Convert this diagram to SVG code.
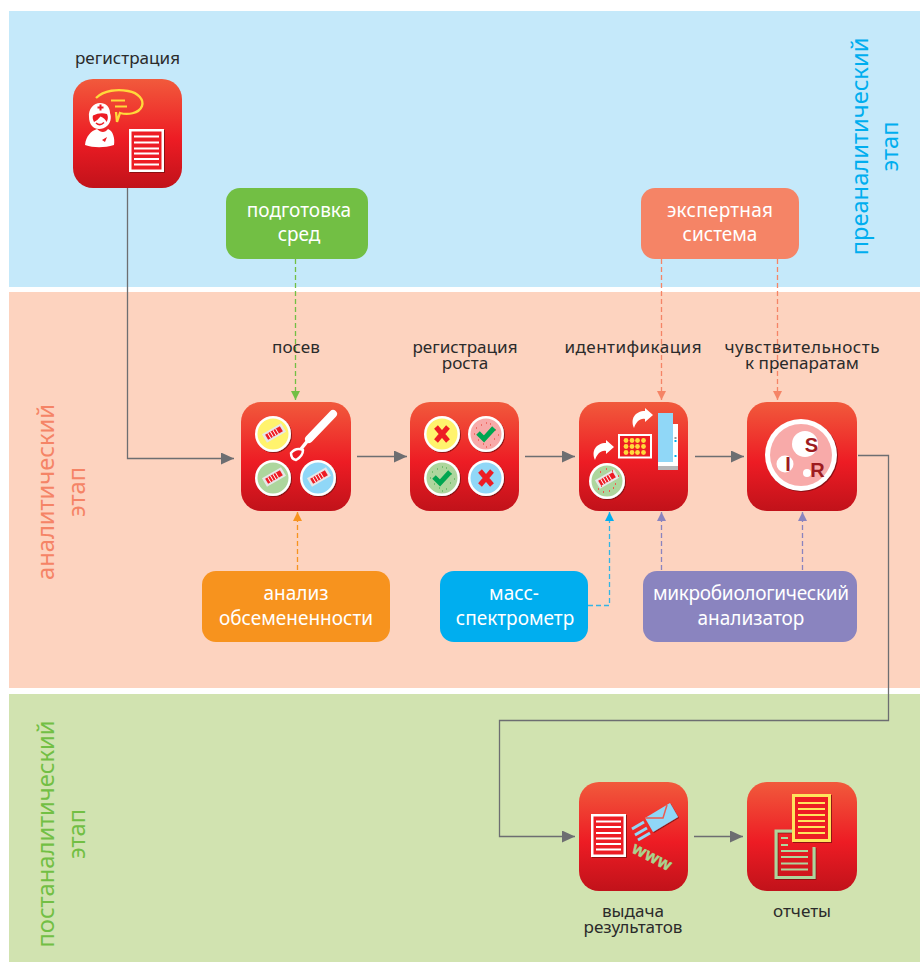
<svg xmlns="http://www.w3.org/2000/svg" width="920" height="962" viewBox="0 0 920 962">
<style>
text{font-family:"Noto Sans","Open Sans","Liberation Sans",sans-serif}
.l{font-size:17.1px;fill:#2b2b2b;text-anchor:middle}
.b{font-size:19px;fill:#fff;text-anchor:middle}
.s{font-size:23.7px;text-anchor:middle}
.c{fill:none;stroke:#6d6e71;stroke-width:1.3}
.d{fill:none;stroke-width:1.3;stroke-dasharray:5 3}
.tile{fill:url(#g)}
.wl{stroke:#fff;stroke-width:2}
.k{font-size:20px;font-weight:700;fill:#9e1b20;text-anchor:middle;font-family:"Liberation Sans",sans-serif}
</style>
<defs>
<linearGradient id="g" x1="0" y1="0" x2="0" y2="1"><stop offset="0" stop-color="#f15a3c"/><stop offset=".55" stop-color="#ed1c24"/><stop offset="1" stop-color="#c1121a"/></linearGradient>
<filter id="sh" x="-10%" y="-10%" width="125%" height="125%"><feDropShadow dx="1" dy="1" stdDeviation=".4" flood-color="#7a0c10" flood-opacity=".8"/></filter>
<marker id="ag" markerUnits="userSpaceOnUse" markerWidth="14" markerHeight="12" refX="13" refY="6" orient="auto"><path d="M0 0L13 6L0 12Z" fill="#6d6e71"/></marker>
<marker id="a1" markerUnits="userSpaceOnUse" markerWidth="10" markerHeight="10" refX="9" refY="4.500" orient="auto"><path d="M0 0L9 4.500L0 9Z" fill="#72bf44"/></marker>
<marker id="a2" markerUnits="userSpaceOnUse" markerWidth="10" markerHeight="10" refX="9" refY="4.500" orient="auto"><path d="M0 0L9 4.500L0 9Z" fill="#f7931e"/></marker>
<marker id="a3" markerUnits="userSpaceOnUse" markerWidth="10" markerHeight="10" refX="9" refY="4.500" orient="auto"><path d="M0 0L9 4.500L0 9Z" fill="#00aeef"/></marker>
<marker id="a4" markerUnits="userSpaceOnUse" markerWidth="10" markerHeight="10" refX="9" refY="4.500" orient="auto"><path d="M0 0L9 4.500L0 9Z" fill="#8a84bf"/></marker>
<marker id="a5" markerUnits="userSpaceOnUse" markerWidth="10" markerHeight="10" refX="9" refY="4.500" orient="auto"><path d="M0 0L9 4.500L0 9Z" fill="#f58466"/></marker>
<g id="strip"><g transform="rotate(-30)"><rect x="-11" y="-5" width="22" height="10" fill="#e6e7e8"/><rect x="-8.500" y="-3" width="17" height="6" fill="#ed1c24"/><path d="M-5.500-3V3M-2.500-3V3M.5-3V3M3.500-3V3" stroke="#fff" stroke-width=".9"/></g></g>
<path id="x" d="M-6-7L6 7M6-7L-6 7" stroke="#ed1c24" stroke-width="5" fill="none"/>
<path id="chk" d="M-8-1L-2 5L8-6" stroke="#00a651" stroke-width="5" fill="none"/>
<path id="arrow" d="M0 0C-4-9 1-17 11-17V-20L19-13L11-6V-9C6-10 2-6 0 0Z" fill="#fff"/>
</defs>

<g id="bands">
<rect x="9" y="11" width="911" height="276" fill="#c5e9fa"/>
<rect x="9" y="292" width="911" height="396" fill="#fdd3bf"/>
<rect x="9" y="694" width="911" height="268" fill="#d1e3b0"/>
</g>

<g id="connectors">
<path class="c" d="M127.500 188V458.500H234" marker-end="url(#ag)"/>
<path class="c" d="M357 456.500H407" marker-end="url(#ag)"/>
<path class="c" d="M525 456.500H575" marker-end="url(#ag)"/>
<path class="c" d="M695 456.500H744" marker-end="url(#ag)"/>
<path class="c" d="M858 455.500H888.500V720.500H499.500V836.500H575" marker-end="url(#ag)"/>
<path class="c" d="M694 836.500H743" marker-end="url(#ag)"/>
<path class="d" stroke="#72bf44" d="M295.500 259V400" marker-end="url(#a1)"/>
<path class="d" stroke="#f7931e" d="M297.500 570V512" marker-end="url(#a2)"/>
<path class="d" stroke="#00aeef" stroke-opacity=".8" d="M588 605.500H609.500V512" marker-end="url(#a3)"/>
<path class="d" stroke="#8a84bf" d="M661.500 570V512" marker-end="url(#a4)"/>
<path class="d" stroke="#8a84bf" d="M802.500 570V512" marker-end="url(#a4)"/>
<path class="d" stroke="#f58466" d="M661.500 259V400" marker-end="url(#a5)"/>
<path class="d" stroke="#f58466" d="M777.500 259V400" marker-end="url(#a5)"/>
</g>

<g id="stage-pre"><text class="s" fill="#00aeef" transform="translate(868 146.500) rotate(-90)">преаналитический</text><text class="s" fill="#00aeef" transform="translate(898 146.500) rotate(-90)">этап</text></g>
<g id="stage-ana"><text class="s" fill="#f58466" transform="translate(54 492) rotate(-90)">аналитический</text><text class="s" fill="#f58466" transform="translate(85 492) rotate(-90)">этап</text></g>
<g id="stage-post"><text class="s" fill="#72bf44" transform="translate(54 834) rotate(-90)">постаналитический</text><text class="s" fill="#72bf44" transform="translate(85 834) rotate(-90)">этап</text></g>

<g id="n-reg">
<text class="l" x="127.500" y="64">регистрация</text>
<rect class="tile" x="73" y="79" width="109" height="109" rx="20"/>
<path d="M96 98C104 90 118 89 128 91C139 93 144 100 142 106C139 114 127 115 120 113L117 122L116 112" fill="none" stroke="#ffd93b" stroke-width="2.300"/>
<path d="M111 100.500H125M115 106.500H127" stroke="#ffd93b" stroke-width="2"/>
<path d="M89 117C88 109 94 103 100 103C106 103 110 107 110 113C112 118 110 124 107 126C103 130 95 130 92 126C90 124 89 120 89 117Z" fill="#fff"/>
<path d="M93 115.500Q100 112 107 114Q109 118 106.500 122Q105 118 100.500 116.500Q98 120 94 122Q92 118 93 115.500Z" fill="#ed1c24"/>
<path d="M96 123Q100 126.500 104 122.500" fill="none" stroke="#ed1c24" stroke-width="1.500"/>
<path d="M85 145C86 136 91 131 97 129C101 133 105 133 108 129C113 131 115 138 114 145C104 148 94 148 85 145Z" fill="#fff"/>
<path d="M97.500 107.500H103.500M100.500 104.500V110.500" stroke="#ed1c24" stroke-width="2"/>
<path d="M102 140L107 137L105 142Z" fill="#ed1c24"/>
<g filter="url(#sh)"><rect x="129" y="129" width="35" height="43" fill="#fff"/></g><rect x="131.500" y="131.500" width="30" height="38" fill="#ed1c24"/>
<path class="wl" d="M134 136.500H159M134 142.500H159M134 148.500H159M134 153.500H159M134 159H159M134 164.500H159"/>
</g>

<g id="n-media"><rect x="226" y="188" width="142" height="71" rx="14" fill="#72bf44"/><text class="b" x="299" y="217">подготовка</text><text class="b" x="299" y="241">сред</text></g>
<g id="n-expert"><rect x="641" y="188" width="158" height="71" rx="14" fill="#f58466"/><text class="b" x="720" y="217" textLength="106">экспертная</text><text class="b" x="720" y="241">система</text></g>

<g id="n-seed">
<text class="l" x="296" y="353">посев</text>
<rect class="tile" x="241" y="402" width="110" height="109" rx="20"/>
<g filter="url(#sh)"><circle cx="273" cy="434" r="18" fill="#fff"/><circle cx="273" cy="478" r="18" fill="#fff"/><circle cx="318" cy="478" r="18" fill="#fff"/></g>
<circle cx="273" cy="434" r="15.500" fill="#fff36d"/><use href="#strip" x="274" y="433"/>
<circle cx="273" cy="478" r="15.500" fill="#add69d"/><use href="#strip" x="274" y="477"/>
<circle cx="318" cy="478" r="15.500" fill="#90d7f7"/><use href="#strip" x="319" y="477"/>
<path d="M333 414L309 439" stroke="#fff" stroke-width="8" stroke-linecap="round"/>
<path d="M309 439L301 449" stroke="#fff" stroke-width="3.500"/>
<path d="M291 453Q296 447 303 450Q303 456 296 460Q291 459 291 453Z" fill="#ed1c24" stroke="#fff" stroke-width="2.500" stroke-linejoin="round"/>
</g>

<g id="n-growth">
<text class="l"><tspan x="465" y="353">регистрация</tspan><tspan x="465" y="369">роста</tspan></text>
<rect class="tile" x="410" y="402" width="109" height="109" rx="20"/>
<g filter="url(#sh)"><circle cx="442" cy="434" r="18" fill="#fff"/><circle cx="486" cy="434" r="18" fill="#fff"/><circle cx="442" cy="478" r="18" fill="#fff"/><circle cx="486" cy="478" r="18" fill="#fff"/></g>
<circle cx="442" cy="434" r="15.500" fill="#fff36d"/><use href="#x" x="442" y="434"/>
<circle cx="486" cy="434" r="15.500" fill="#f8aaa9"/><path d="M476 428h1M481 425h1M490 424h1M495 430h1M478 440h1M483 444h1M494 439h1M490 445h1M474 434h1M486 423h1M498 435h1M486 447h1" stroke="#ed5a50" stroke-width="1.500"/><use href="#chk" x="486" y="434"/>
<circle cx="442" cy="478" r="15.500" fill="#add69d"/><path d="M432 472h1M437 469h1M446 468h1M451 474h1M434 484h1M439 488h1M450 483h1M446 489h1M430 478h1M442 467h1M454 479h1M442 491h1" stroke="#5fb760" stroke-width="1.500"/><use href="#chk" x="442" y="478"/>
<circle cx="486" cy="478" r="15.500" fill="#90d7f7"/><use href="#x" x="486" y="478"/>
</g>

<g id="n-ident">
<text class="l" x="633" y="353" textLength="137">идентификация</text>
<rect class="tile" x="579" y="402" width="109" height="109" rx="20"/>
<g filter="url(#sh)"><circle cx="607" cy="481" r="18" fill="#fff"/></g><circle cx="607" cy="481" r="15.500" fill="#add69d"/><use href="#strip" x="607" y="479"/>
<path d="M598 489h1M603 492h1M609 491h1M613 488h1M615 484h1M601 486h1M600 472h1M606 469h1M612 471h1M618 476h1" stroke="#ed5a50" stroke-width="1.800"/>
<use href="#arrow" x="595" y="460"/><use href="#arrow" x="634" y="428"/>
<rect x="618" y="434" width="34" height="24.500" fill="#fff"/><rect x="620" y="436" width="30" height="20.500" fill="#ed1c24"/>
<g fill="#ffd93b"><circle cx="626" cy="440.500" r="2.400"/><circle cx="632" cy="440.500" r="2.400"/><circle cx="637.500" cy="440.500" r="2.400"/><circle cx="643.500" cy="440.500" r="2.400"/><circle cx="626" cy="446.500" r="2.400"/><circle cx="632" cy="446.500" r="2.400"/><circle cx="637.500" cy="446.500" r="2.400"/><circle cx="643.500" cy="446.500" r="2.400"/><circle cx="626" cy="452.500" r="2.400"/><circle cx="632" cy="452.500" r="2.400"/><circle cx="637.500" cy="452.500" r="2.400"/><circle cx="643.500" cy="452.500" r="2.400"/></g>
<rect x="658" y="424" width="20" height="42" fill="#fff"/><rect x="658" y="466" width="20" height="4" fill="#b5b6b8"/><rect x="658" y="413" width="15" height="49" fill="#90d7f7"/>
<rect x="674.500" y="437" width="2" height="2" fill="#9a9a9a"/><rect x="674.500" y="440" width="2" height="2" fill="#00aeef"/><rect x="674.500" y="455" width="2" height="2" fill="#00aeef"/>
</g>

<g id="n-sens">
<text class="l"><tspan x="802" y="353" textLength="155">чувствительность</tspan><tspan x="802" y="369">к препаратам</tspan></text>
<rect class="tile" x="747" y="402" width="110" height="109" rx="20"/>
<circle cx="802" cy="456" r="36" fill="#8c0f14"/><circle cx="801" cy="455" r="36" fill="#fff"/><circle cx="801" cy="455" r="31" fill="#f8aaa9"/>
<circle cx="805" cy="444" r="13" fill="#fff"/><circle cx="785" cy="464" r="8.500" fill="#fff"/><circle cx="807" cy="473" r="4" fill="#fff"/>
<text class="k" x="811.500" y="452">S</text>
<text class="k" x="788" y="471">I</text>
<text class="k" x="817.500" y="477">R</text>
</g>

<g id="n-load"><rect x="202" y="571" width="188" height="71" rx="14" fill="#f7931e"/><text class="b" x="296" y="600">анализ</text><text class="b" x="296" y="625">обсемененности</text></g>
<g id="n-mass"><rect x="440" y="571" width="148" height="71" rx="14" fill="#00aeef"/><text class="b" x="514" y="600">масс-</text><text class="b" x="515" y="625">спектрометр</text></g>
<g id="n-micro"><rect x="643" y="571" width="214" height="71" rx="14" fill="#8a84bf"/><text class="b" x="751" y="600" textLength="196">микробиологический</text><text class="b" x="751" y="625">анализатор</text></g>

<g id="n-out">
<rect class="tile" x="579" y="782" width="109" height="109" rx="20"/>
<g filter="url(#sh)"><rect x="591" y="814" width="35" height="43" fill="#fff"/></g><rect x="593.500" y="816.500" width="30" height="38" fill="#ed1c24"/>
<path class="wl" d="M596 821.500H621M596 827H621M596 833H621M596 838.500H621M596 844H621M596 849.500H621"/>
<g filter="url(#sh)"><path d="M645 818L670 803L678 817L653 832Z" fill="#90d7f7"/></g><path d="M645 818L663 818L667 805" fill="none" stroke="#ed5a50" stroke-width="1.500"/>
<path d="M632 829L644 822M635 835L647 828M638 840L650 833" stroke="#90d7f7" stroke-width="3"/>
<text transform="translate(631 852) rotate(27)" class="k" style="fill:#a9d48e;stroke:#a9d48e;stroke-width:.5px;font-size:17px;letter-spacing:1px;text-anchor:start">www</text>
<text class="l"><tspan x="633" y="917">выдача</tspan><tspan x="633" y="933">результатов</tspan></text>
</g>

<g id="n-rep">
<rect class="tile" x="747" y="782" width="110" height="109" rx="20"/>
<g filter="url(#sh)"><path d="M792 831H776V877.500H814V847" fill="none" stroke="#add69d" stroke-width="3"/></g>
<path d="M781 838H788M781 845H788M781 851H808M781 857H808M781 863.500H808M781 869.500H808" stroke="#add69d" stroke-width="2.200"/>
<g filter="url(#sh)"><rect x="792" y="794" width="39" height="48" fill="#ffe45c"/></g><rect x="795" y="797" width="33" height="42" fill="#ed1c24"/>
<path d="M798 803H825M798 809H825M798 815H825M798 821H825M798 827H825M798 833H825" stroke="#ffe45c" stroke-width="2"/>
<text class="l" x="802" y="917">отчеты</text>
</g>
</svg>
